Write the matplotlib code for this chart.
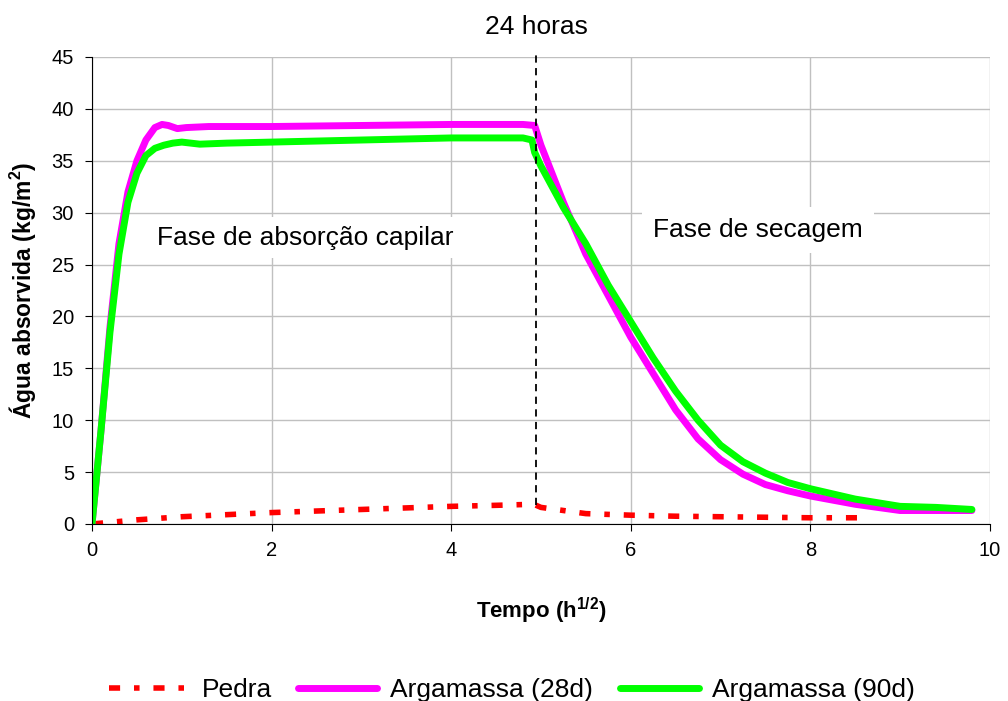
import matplotlib
matplotlib.use('Agg')
import matplotlib.pyplot as plt
import numpy as np

plt.rcParams['font.family'] = ['Liberation Sans', 'DejaVu Sans']
plt.rcParams['mathtext.fontset'] = 'custom'
plt.rcParams['mathtext.bf'] = 'Liberation Sans:bold'
plt.rcParams['mathtext.rm'] = 'Liberation Sans'

# Pedra
x_pedra = [0, 0.5, 1.0, 1.5, 2.0, 2.5, 3.0, 3.5, 4.0, 4.5, 4.92, 5.0, 5.5, 6.0, 6.5, 7.0, 7.5, 8.0, 8.52]
y_pedra = [0, 0.4, 0.7, 0.9, 1.1, 1.25, 1.4, 1.55, 1.7, 1.8, 1.9, 1.6, 1.0, 0.85, 0.75, 0.7, 0.65, 0.6, 0.6]

# Argamassa (28d)
x_28 = [0, 0.1, 0.2, 0.3, 0.4, 0.5, 0.6, 0.7, 0.78, 0.85, 0.95, 1.05, 1.3, 2.0, 3.0, 4.0, 4.8, 4.93,
        5.0, 5.25, 5.5, 5.75, 6.0, 6.25, 6.5, 6.75, 7.0, 7.25, 7.5, 7.75, 8.0, 8.5, 9.0, 9.4, 9.8]
y_28 = [0, 9, 19, 27, 32, 35, 37, 38.2, 38.5, 38.4, 38.1, 38.2, 38.3, 38.3, 38.4, 38.5, 38.5, 38.4,
        36.5, 31, 26, 22, 18, 14.5, 11, 8.2, 6.2, 4.8, 3.8, 3.2, 2.7, 1.9, 1.3, 1.3, 1.3]

# Argamassa (90d)
x_90 = [0, 0.1, 0.2, 0.3, 0.4, 0.5, 0.6, 0.7, 0.8, 0.9, 1.0, 1.2, 1.5, 2.0, 3.0, 4.0, 4.8, 4.9, 4.93,
        5.0, 5.25, 5.5, 5.75, 6.0, 6.25, 6.5, 6.75, 7.0, 7.25, 7.5, 7.75, 8.0, 8.5, 9.0, 9.4, 9.8]
y_90 = [0, 9, 18.5, 26, 31, 33.8, 35.5, 36.2, 36.5, 36.7, 36.8, 36.6, 36.7, 36.8, 37.0, 37.2, 37.2, 37.0, 35.8,
        34.5, 30.5, 27, 23, 19.5, 16, 12.8, 10, 7.6, 6.0, 4.9, 4.0, 3.4, 2.4, 1.7, 1.6, 1.4]

fig = plt.figure(figsize=(10.08, 7.01), dpi=100)
ax = fig.add_axes([0.0913, 0.2525, 0.8907, 0.6662])

ax.plot(x_pedra, y_pedra, color='#ff0000', lw=4, ls=(0, (2, 2.5, 1, 2.5)), label='Pedra')
ax.plot(x_28, y_28, color='#ff00ff', lw=5, solid_capstyle='round', label='Argamassa (28d)')
ax.plot(x_90, y_90, color='#00ff00', lw=5, solid_capstyle='round', label='Argamassa (90d)')

ax.axvline(4.95, ymin=0.04, ymax=1.01, color='black', lw=1.3, ls=(0, (4, 3)), clip_on=False)
ax.text(4.95, 47.9, '24 horas', ha='center', va='center', fontsize=19)

ax.text(0.72, 27.6, 'Fase de absorção capilar', fontsize=19, va='center', ha='left',
        bbox=dict(facecolor='white', edgecolor='none', pad=6), zorder=1)
ax.text(6.25, 28.3, 'Fase de secagem', fontsize=19, va='center', ha='left',
        bbox=dict(facecolor='white', edgecolor='none', pad=8), zorder=1)

ax.set_xlim(0, 10)
ax.set_ylim(0, 45)
ax.set_xticks(np.arange(0, 11, 2))
ax.set_yticks(np.arange(0, 46, 5))
ax.tick_params(labelsize=14.5, direction='out', length=5)
ax.tick_params(axis='x', pad=7)
ax.tick_params(axis='y', pad=8)
ax.grid(True, color='#c0c0c0', lw=1)
ax.set_axisbelow(True)
for s in ['top', 'right']:
    ax.spines[s].set_visible(False)

ax.set_xlabel('Tempo (h$^{\\mathbf{1/2}}$)', fontsize=16, fontweight='bold', labelpad=26)
ax.set_ylabel('Água absorvida (kg/m$^{\\mathbf{2}}$)', fontsize=16.5, fontweight='bold', labelpad=10)

fig.legend(loc='lower center', bbox_to_anchor=(0.508, -0.036), ncol=3, frameon=False,
           fontsize=19, handlelength=3, columnspacing=1.0, handletextpad=0.5)

fig.savefig('out.png', dpi=100)
